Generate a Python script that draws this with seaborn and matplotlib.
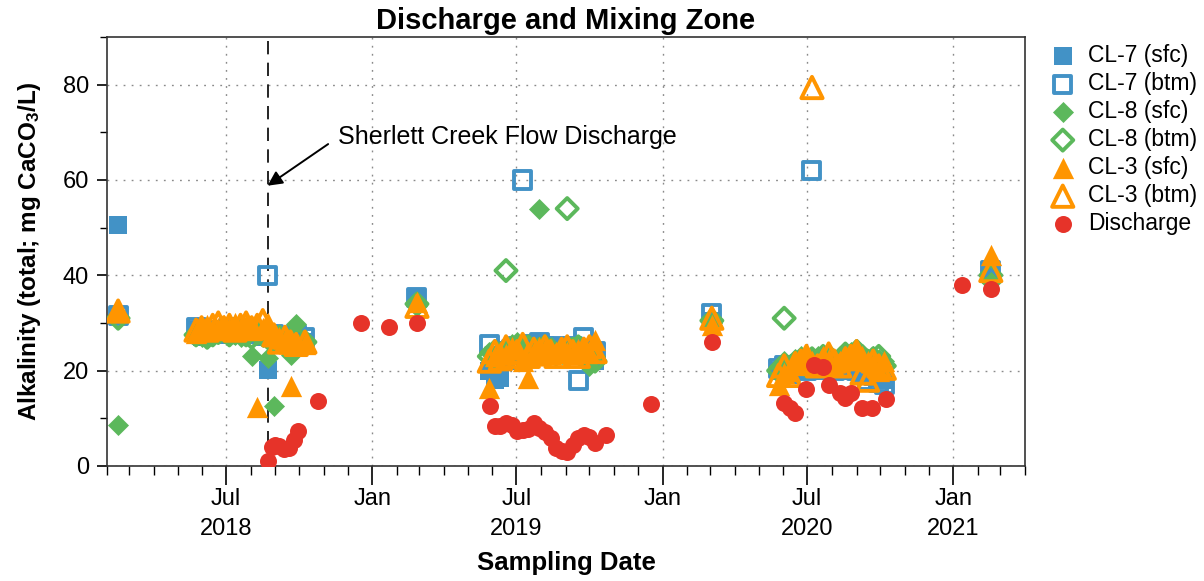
"""Alkalinity in the discharge and mixing zone"""
import pandas as pd
import numpy as np
import seaborn as sns
import matplotlib.pyplot as plt
import matplotlib.dates as mdates
from matplotlib.ticker import MultipleLocator

# sampling dates shared by the CL stations (None = not sampled / not read)
station_dates = [
    '2018-02-15',
    '2018-05-24', '2018-05-31', '2018-06-07', '2018-06-14', '2018-06-21',
    '2018-06-28', '2018-07-05', '2018-07-12', '2018-07-19', '2018-07-26',
    '2018-08-02', '2018-08-09', '2018-08-16', '2018-08-22', '2018-08-30',
    '2018-09-06', '2018-09-13', '2018-09-20', '2018-09-27', '2018-10-08',
    '2019-02-26',
    '2019-05-28', '2019-06-04', '2019-06-11', '2019-06-18', '2019-06-25',
    '2019-07-02', '2019-07-09', '2019-07-16', '2019-07-23', '2019-07-30',
    '2019-08-06', '2019-08-13', '2019-08-20', '2019-08-27', '2019-09-03',
    '2019-09-10', '2019-09-17', '2019-09-24', '2019-10-01', '2019-10-08',
    '2020-03-03',
    '2020-05-26', '2020-06-02', '2020-06-09', '2020-06-16', '2020-06-23',
    '2020-06-30', '2020-07-07', '2020-07-14', '2020-07-21', '2020-07-28',
    '2020-08-04', '2020-08-11', '2020-08-18', '2020-08-25', '2020-09-01',
    '2020-09-08', '2020-09-15', '2020-09-22', '2020-09-29', '2020-10-06',
    '2021-02-17',
]

cl7_sfc = [
    50.5,
    28.5, 27, 27.5, 28, 27.5, 28, 28.5, 28, 27.5, 28, 28, 27.5, 27, 20.2, 27, 26.5, 26, 26.5, 27, 26,
    35,
    20, 18, 18.5, 22, 23, 24, 23.5, 24, 25, 24.5, 24, 25, 24.5, 24, 23.5, 24, 24.5, 23, 24, 22,
    30.5,
    20, 20.5, 19, 21, 20, 21.5, 20.5, 21, 20, 21, 21.5, 20, 21, 20.5, 21, 19.5, 20, 19, 18.5, 18,
    40,
]
cl7_btm = [
    31.5,
    29, 27.5, 28, 28.5, 28, 28.5, 29, 28.5, 28, 28.5, 28, 28, 27.5, 40, 27.5, 27, 26.5, 27, 27.5, 27,
    35.3,
    25.4, 23, 22.5, 24, 24.5, 25, 60, 24, 25.5, 26, 25, 24.5, 25, 24, 24.5, 25, 18, 27, 24.5, 24,
    32,
    20.5, 21, 20, 20.5, 21, 20, 62, 21, 21.5, 20.5, 20, 21, 20.5, 21, 20, 19.5, 18, 19, 17.5, 17,
    41,
]
cl8_sfc = [
    8.5,
    28, 27, 27.5, 28, 28.5, 28, 28, 27.5, 27, 28, 23, 27.5, 27, 22.7, 12.5, 27, 26, 23.3, 29.7, 26.5,
    33.5,
    24, 22, 23, 24, 25.5, 26, 25, 24, 25, 54, 24.5, 25, 24, 23.5, 24, 25, 24, 22, 21, 23,
    30,
    21, 22, 21.5, 22.5, 23, 22, 22.5, 23, 22, 23.5, 22, 23, 23.5, 24, 24.5, 23, 22, 23, 22.5, 22,
    38.5,
]
cl8_btm = [
    31,
    27.5, 28, 27, 27.5, 28, 28.5, 27.5, 28, 28.5, 27.5, 27, 28, 27.5, 27, 26.5, 27, 26, 26.5, 27, 26,
    34,
    23, 24, 23.5, 41, 24, 25, 24.5, 25, 24, 24.5, 25, 24, 23.5, 24, 54, 24.5, 25, 24, 23, 22,
    30.5,
    20, 31, 20.5, 21.5, 22, 21, 22.5, 22, 23, 22, 21.5, 22, 23.5, 22.5, 24, 23, 22, 22.5, 23, 21,
    40,
]
cl3_sfc = [
    33,
    28, 29, 29.5, 28.5, 29, 29.5, 29, 30, 29, 29.5, 28.5, 12.4, 29, 30, 28, 27, 26.5, 16.8, 26, 25.5,
    34.5,
    16.4, 23, 24, 23.5, 25, 24.5, 22, 18.5, 24, 25, 24.5, 23.5, 24, 25, 24, 23.5, 24.5, 25, 24, 26.5,
    29.5,
    17, 19.5, 20, 22, 22.5, 23.5, 22, 21.5, 23, 22.5, 21, 22, 23, 22.5, 24, 23, 22, 21.5, 20, 22,
    44.3,
]
cl3_btm = [
    32.5,
    28.5, 29, 28.5, 29.5, 30, 29, 29.5, 28.5, 29.5, 30, 29, 29.5, 30.5, 29, 27.5, 26, 27, 26, 25.5, 26,
    33.5,
    22, 24, 22.5, 25, 23, 24, 25.5, 23, 24.5, 23.5, 25, 24, 23, 24.5, 25, 24, 23, 24.5, 25, 24,
    31,
    19, 21, 19, 21.5, 22, 23, 79.4, 21, 22, 23.5, 22, 21, 22.5, 23, 24, 19.5, 18, 22, 21, 20.5,
    41,
]

discharge_dates = [
    '2018-08-22', '2018-08-27', '2018-09-01', '2018-09-06', '2018-09-12',
    '2018-09-18', '2018-09-24', '2018-09-29', '2018-10-25',
    '2018-12-17', '2019-01-22', '2019-02-26',
    '2019-05-29', '2019-06-04', '2019-06-11', '2019-06-18', '2019-06-25',
    '2019-07-02', '2019-07-09', '2019-07-16', '2019-07-23', '2019-07-30',
    '2019-08-06', '2019-08-13', '2019-08-20', '2019-08-27', '2019-09-03',
    '2019-09-10', '2019-09-17', '2019-09-24', '2019-10-01', '2019-10-08',
    '2019-10-22', '2019-12-17',
    '2020-03-03',
    '2020-06-02', '2020-06-09', '2020-06-16', '2020-06-30', '2020-07-09',
    '2020-07-21', '2020-07-28', '2020-08-11', '2020-08-18', '2020-08-25',
    '2020-09-08', '2020-09-20', '2020-10-08',
    '2021-01-12', '2021-02-17',
]
discharge_vals = [
    1.0, 4.0, 4.5, 4.3, 3.6, 3.8, 5.5, 7.3, 13.7,
    30.0, 29.2, 30.0,
    12.6, 8.4, 8.4, 9.0, 8.6, 7.3, 7.6, 7.8, 9.0, 8.0,
    7.2, 5.9, 3.8, 3.2, 3.0, 4.5, 5.8, 6.5, 6.0, 4.8,
    6.5, 13.0,
    26.0,
    13.2, 12.2, 11.1, 16.2, 21.2, 20.8, 17.0, 15.3, 14.3, 15.3,
    12.2, 12.2, 14.1,
    38.0, 37.2,
]

event_date = '2018-08-22'
event_label = 'Sherlett Creek Flow Discharge'

x_tick_dates = ['2018-07-01', '2019-01-01', '2019-07-01', '2020-01-01', '2020-07-01', '2021-01-01']
x_tick_labels = ['Jul\n2018', 'Jan', 'Jul\n2019', 'Jan', 'Jul\n2020', 'Jan\n2021']
y_ticks = [0, 20, 40, 60, 80]

BLUE = '#4292C6'
GREEN = '#5CB85C'
ORANGE = '#FF9500'
RED = '#E63329'


def main():
    sns.set_theme(style='ticks')
    plt.rcParams['font.family'] = ['Liberation Sans', 'DejaVu Sans']
    plt.rcParams['mathtext.default'] = 'regular'
    for key in ['text.color', 'axes.labelcolor', 'xtick.color', 'ytick.color']:
        plt.rcParams[key] = 'black'

    fig = plt.figure(figsize=(12.04, 5.81), dpi=100)
    ax = fig.add_axes([107 / 1204, 1 - 466 / 581, 918 / 1204, 429 / 581])

    # (label, values, marker, colour, filled, size)
    series = [
        ('CL-7 (sfc)', cl7_sfc, 's', BLUE, True, 150),
        ('CL-7 (btm)', cl7_btm, 's', BLUE, False, 150),
        ('CL-8 (sfc)', cl8_sfc, 'D', GREEN, True, 115),
        ('CL-8 (btm)', cl8_btm, 'D', GREEN, False, 115),
        ('CL-3 (sfc)', cl3_sfc, '^', ORANGE, True, 235),
        ('CL-3 (btm)', cl3_btm, '^', ORANGE, False, 235),
    ]
    dates = pd.to_datetime(station_dates)
    for label, vals, marker, color, filled, size in series:
        df = pd.DataFrame({'date': dates, 'alk': pd.array(vals, dtype='Float64')})
        df = df.dropna().astype({'alk': float})
        if filled:
            sns.scatterplot(data=df, x='date', y='alk', marker=marker, s=size,
                            color=color, linewidth=0, label=label, ax=ax, zorder=3)
        else:
            sns.scatterplot(data=df, x='date', y='alk', marker=marker, s=size,
                            facecolor='none', edgecolor=color, linewidth=2.8,
                            label=label, ax=ax, zorder=3)

    dis = pd.DataFrame({'date': pd.to_datetime(discharge_dates), 'alk': discharge_vals})
    sns.scatterplot(data=dis, x='date', y='alk', marker='o', s=150, color=RED,
                    linewidth=0, label='Discharge', ax=ax, zorder=4)

    # discharge event
    ev = pd.Timestamp(event_date)
    ax.axvline(ev, color='black', lw=1.2, dashes=(8, 5), zorder=2)
    ax.annotate(event_label, xy=(ev, 58.8), xytext=(pd.Timestamp('2018-11-19'), 69.0),
                fontsize=18, ha='left', va='center',
                arrowprops=dict(arrowstyle='-|>', color='black', lw=1.4,
                                mutation_scale=22, shrinkA=6, shrinkB=0,
                                relpos=(0, 0.5)))

    # axes
    ax.set_xlim(pd.Timestamp('2018-02-01'), pd.Timestamp('2021-04-01'))
    ax.set_ylim(0, 90)
    ax.set_xticks(pd.to_datetime(x_tick_dates))
    ax.set_xticklabels(x_tick_labels)
    ax.xaxis.set_minor_locator(mdates.MonthLocator())
    ax.set_yticks(y_ticks)
    ax.yaxis.set_minor_locator(MultipleLocator(10))
    ax.tick_params(axis='x', which='major', length=14, width=1.2, pad=2, labelsize=17)
    ax.tick_params(axis='x', which='minor', length=6.5, width=1.0)
    ax.tick_params(axis='y', which='major', length=7, width=1.2, pad=6, labelsize=17)
    ax.tick_params(axis='y', which='minor', length=5, width=1.0)
    for lab in ax.get_xticklabels():
        lab.set_linespacing(1.45)

    ax.grid(True, which='major', color='#8a8a8a', lw=1.0, linestyle=(0, (1.3, 4.5)))
    ax.set_axisbelow(True)
    for sp in ax.spines.values():
        sp.set_color('#333333')
        sp.set_linewidth(1.2)

    ax.set_title('Discharge and Mixing Zone', fontsize=21, fontweight='bold', pad=6)
    ax.set_xlabel('Sampling Date', fontsize=18.5, fontweight='bold', labelpad=8)
    ax.set_ylabel('Alkalinity (total; mg CaCO$_3$/L)', fontsize=17.5, fontweight='bold', labelpad=14)

    ax.legend(loc='upper left', bbox_to_anchor=(1049 / 1204, 1 - 44 / 581),
              bbox_transform=fig.transFigure, frameon=False, fontsize=16.5,
              borderpad=0, borderaxespad=0, handlelength=1.2, handletextpad=0.5,
              labelspacing=0.22)

    fig.savefig('out.png', dpi=100)


if __name__ == "__main__":
    main()
